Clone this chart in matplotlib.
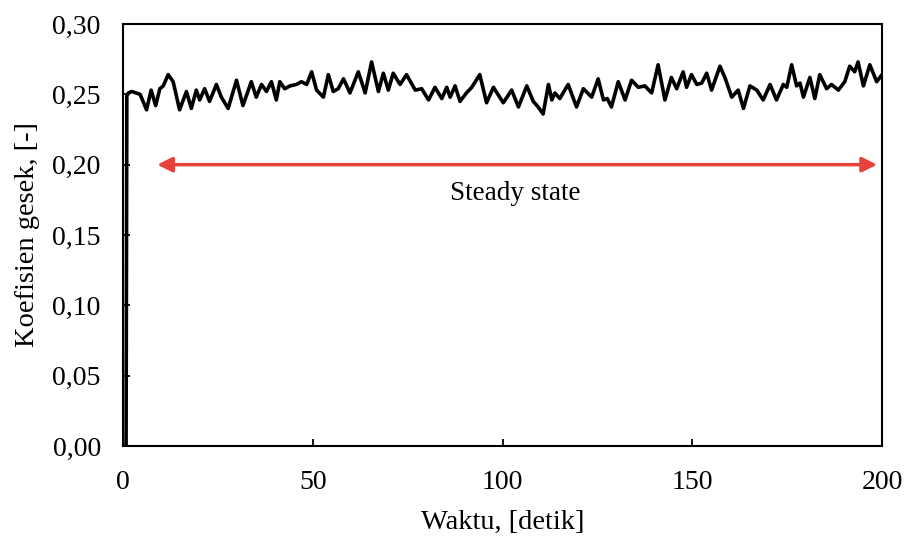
import matplotlib.pyplot as plt
from matplotlib.ticker import FuncFormatter

# friction coefficient vs time
waktu = [0.8, 1.0, 1.4, 2.3, 4.5, 6.2, 7.4, 8.6, 9.7, 10.6, 11.9, 13.2, 14.9, 16.7, 18.0,
         19.3, 20.2, 21.5, 22.8, 24.6, 25.9, 27.7, 29.9, 31.6, 33.8, 35.1, 36.5, 37.8,
         39.1, 40.4, 41.3, 42.6, 44.0, 45.7, 47.0, 48.4, 49.7, 51.0, 52.8, 54.1, 55.4,
         56.7, 58.1, 59.8, 62.0, 63.8, 65.5, 67.3, 68.6, 69.9, 71.2, 73.0, 74.7, 77.0,
         78.7, 80.5, 82.2, 84.0, 85.3, 86.2, 87.5, 88.8, 90.5, 91.9, 94.0, 95.8, 97.6,
         100.2, 102.4, 104.2, 106.4, 108.1, 109.4, 110.7, 112.1, 113.0, 113.8, 115.1,
         117.3, 119.5, 121.3, 123.5, 125.2, 126.6, 127.6, 128.7, 130.5, 132.3, 134.0,
         135.8, 137.5, 139.3, 141.0, 142.8, 144.5, 145.9, 147.6, 148.5, 149.8, 151.2,
         152.5, 153.8, 155.1, 157.3, 158.6, 160.4, 162.1, 163.5, 165.2, 167.0, 168.7,
         170.5, 172.2, 174.0, 174.9, 176.2, 177.5, 178.4, 179.3, 181.0, 182.3, 183.6,
         185.4, 186.7, 188.5, 190.2, 191.5, 192.8, 193.7, 195.1, 196.8, 198.6, 200]
koefisien = [0.0, 0.249, 0.251, 0.252, 0.250, 0.239, 0.253, 0.242, 0.254, 0.256, 0.264,
             0.259, 0.239, 0.252, 0.240, 0.253, 0.246, 0.254, 0.245, 0.257, 0.248, 0.240,
             0.260, 0.242, 0.259, 0.248, 0.257, 0.252, 0.259, 0.246, 0.259, 0.254, 0.256,
             0.257, 0.259, 0.257, 0.266, 0.253, 0.248, 0.264, 0.252, 0.254, 0.261, 0.251,
             0.266, 0.251, 0.273, 0.252, 0.265, 0.253, 0.265, 0.257, 0.264, 0.253, 0.254,
             0.246, 0.255, 0.247, 0.255, 0.248, 0.256, 0.245, 0.251, 0.255, 0.264, 0.244,
             0.255, 0.244, 0.253, 0.241, 0.256, 0.245, 0.241, 0.236, 0.257, 0.246, 0.251,
             0.247, 0.257, 0.241, 0.254, 0.248, 0.261, 0.246, 0.247, 0.241, 0.259, 0.246,
             0.260, 0.255, 0.256, 0.251, 0.271, 0.246, 0.262, 0.254, 0.266, 0.255, 0.264,
             0.257, 0.258, 0.265, 0.253, 0.270, 0.262, 0.248, 0.253, 0.240, 0.256, 0.253,
             0.246, 0.257, 0.246, 0.257, 0.255, 0.271, 0.256, 0.258, 0.248, 0.262, 0.247,
             0.264, 0.254, 0.257, 0.253, 0.259, 0.270, 0.266, 0.273, 0.256, 0.271, 0.259,
             0.264]

steady_mulai, steady_akhir, steady_y = 9, 198.7, 0.20

plt.rcParams['font.family'] = 'Liberation Serif'
fig = plt.figure(figsize=(9.06, 5.38), dpi=100)
ax = fig.add_axes([0.1358, 0.1710, 0.8377, 0.7844])

ax.plot(waktu, koefisien, color='black', lw=2.6, solid_joinstyle='round')

ax.annotate('', xy=(steady_akhir, steady_y), xytext=(steady_mulai, steady_y),
            arrowprops=dict(arrowstyle='<|-|>', color='#E8433A', lw=2.5,
                            mutation_scale=22, shrinkA=0, shrinkB=0))
ax.text(103.3, 0.1796, 'Steady state', fontsize=19.5, ha='center', va='center')

ax.set_xlim(0, 200)
ax.set_ylim(0, 0.30)
ax.set_xticks([0, 50, 100, 150, 200])
ax.set_yticks([0, 0.05, 0.10, 0.15, 0.20, 0.25, 0.30])
ax.yaxis.set_major_formatter(FuncFormatter(lambda v, p: f'{v:.2f}'.replace('.', ',')))
ax.tick_params(direction='in', length=5, width=1.3, labelsize=20)
ax.tick_params(axis='x', pad=17)
ax.tick_params(axis='y', pad=16)
for s in ax.spines.values():
    s.set_linewidth(1.5)

ax.set_xlabel('Waktu, [detik]', fontsize=20.5, labelpad=11)
ax.set_ylabel('Koefisien gesek, [-]', fontsize=20.5, labelpad=9)

fig.savefig('out.png', dpi=100)
